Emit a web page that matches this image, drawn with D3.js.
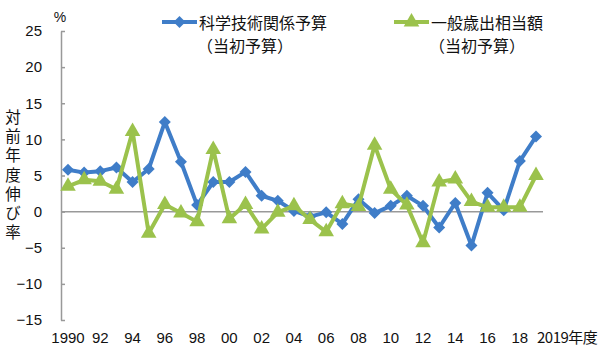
<!DOCTYPE html>
<html><head><meta charset="utf-8">
<script src="https://cdn.jsdelivr.net/npm/d3@7"></script>
<style>
body{margin:0;background:#fff;}
svg{display:block;}
</style></head>
<body>
<svg id="c" width="600" height="355"></svg>
<script>
const years = d3.range(1990, 2020);
const xTickLabels = ["1990","92","94","96","98","00","02","04","06","08","10","12","14","16","18","2019年度"];
const xTickYears = [1990,1992,1994,1996,1998,2000,2002,2004,2006,2008,2010,2012,2014,2016,2018,2019];
const yTicks = [-15,-10,-5,0,5,10,15,20,25];
const sciTech = [5.8,5.4,5.6,6.1,4.1,5.9,12.4,6.9,0.9,4.1,4.1,5.5,2.2,1.5,0.1,-0.7,-0.1,-1.7,1.7,-0.2,0.8,2.2,0.8,-2.2,1.2,-4.7,2.6,0.2,7.0,10.4];
const general = [3.5,4.4,4.2,3.1,11.1,-3.0,1.0,-0.2,-1.4,8.6,-1.0,1.0,-2.4,-0.1,0.8,-1.1,-2.8,1.1,0.7,9.2,3.1,0.9,-4.3,4.1,4.5,1.4,0.6,0.6,0.6,5.0];
const seriesNames = [["科学技術関係予算","（当初予算）"],["一般歳出相当額","（当初予算）"]];
const yTitle = "対前年度伸び率";
const unit = "%";

const BLUE = "#3f7dc8", GREEN = "#9bc24c";
const JP = "'Noto Sans CJK JP','Noto Sans',sans-serif";
const NUM = "'Liberation Sans',Arial,sans-serif";

const svg = d3.select("#c");
const x = d3.scalePoint().domain(years).range([68, 536]);
const y = d3.scaleLinear().domain([-15, 25]).range([320, 31]);

// y axis
const yAxis = svg.append("g").attr("transform","translate(61,0)")
  .call(d3.axisLeft(y).tickValues(yTicks).tickSizeInner(-4).tickSizeOuter(0).tickPadding(19)
    .tickFormat(d => d < 0 ? "−" + Math.abs(d) : String(d)));
yAxis.select(".domain").attr("stroke","#999").attr("stroke-width",1.5);
yAxis.selectAll(".tick line").attr("stroke","#999").attr("stroke-width",1.5);
yAxis.selectAll(".tick text").attr("font-family",NUM).attr("font-size",15).attr("fill","#111");

// zero line
svg.append("line").attr("x1",61).attr("x2",543).attr("y1",y(0)).attr("y2",y(0))
  .attr("stroke","#999").attr("stroke-width",1.5);

// x labels
svg.append("g").selectAll("text").data(xTickYears).join("text")
  .attr("x",(d,i)=> i===xTickYears.length-1 ? x(d)+1 : x(d))
  .attr("y",343)
  .attr("text-anchor",(d,i)=> i===xTickYears.length-1 ? "start" : "middle")
  .attr("font-family",(d,i)=> i===xTickYears.length-1 ? JP : NUM)
  .attr("font-size",15).attr("fill","#111")
  .attr("letter-spacing",(d,i)=> i===xTickYears.length-1 ? "-0.5" : null)
  .text((d,i)=>xTickLabels[i]);

// unit
svg.append("text").attr("x",60).attr("y",22).attr("text-anchor","middle")
  .attr("font-family",NUM).attr("font-size",14).attr("fill","#111").text(unit);

// y title vertical (single text element)
svg.append("text").attr("x",13).attr("y",109)
  .style("writing-mode","vertical-rl").style("text-orientation","upright")
  .attr("letter-spacing",3.8)
  .attr("font-family",JP).attr("font-size",15.5).attr("fill","#111").text(yTitle);

const line = d3.line().x((d,i)=>x(years[i])).y(d=>y(d));
const diamond = d3.symbol().type(d3.symbolSquare).size(72);
const tri = d3.symbol().type(d3.symbolTriangle).size(105);

function drawSeries(vals, color, sym, rot){
  svg.append("path").datum(vals).attr("d",line).attr("fill","none")
    .attr("stroke",color).attr("stroke-width",4).attr("stroke-linejoin","round");
  svg.append("g").selectAll("path").data(vals).join("path")
    .attr("d",sym).attr("fill",color)
    .attr("transform",(d,i)=>`translate(${x(years[i])},${y(d)}) rotate(${rot})`);
}
drawSeries(sciTech, BLUE, diamond, 45);
drawSeries(general, GREEN, tri, 0);

// legend
function legend(lx, color, sym, rot, names){
  const g = svg.append("g");
  g.append("line").attr("x1",lx).attr("x2",lx+35).attr("y1",22).attr("y2",22)
    .attr("stroke",color).attr("stroke-width",4);
  g.append("path").attr("d",sym).attr("fill",color)
    .attr("transform",`translate(${lx+17.5},22) rotate(${rot})`);
  g.append("text").attr("x",lx+37).attr("y",23).attr("dy","0.35em")
    .attr("font-family",JP).attr("font-size",16).attr("fill","#111").text(names[0]);
  g.append("text").attr("x",lx+35).attr("y",46).attr("dy","0.35em")
    .attr("font-family",JP).attr("font-size",16).attr("fill","#111").text(names[1]);
}
legend(162, BLUE, diamond, 45, seriesNames[0]);
legend(394, GREEN, tri, 0, seriesNames[1]);
</script>
</body></html>
